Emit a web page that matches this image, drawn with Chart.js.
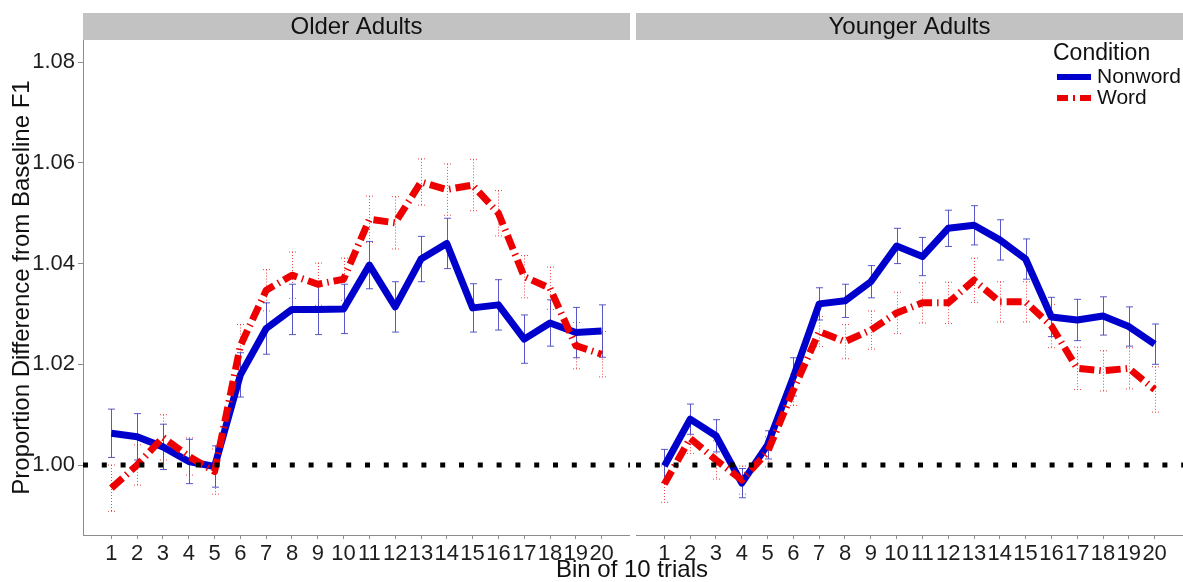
<!DOCTYPE html>
<html>
<head>
<meta charset="utf-8">
<script src="https://cdn.jsdelivr.net/npm/chart.js@4.4.1/dist/chart.umd.min.js"></script>
<style>
  body { margin: 0; background: #fff; width: 1183px; height: 582px; overflow: hidden; position: relative; }
  canvas { position: absolute; top: 0; }
  #olderChart { left: 0; }
  #youngerChart { left: 636px; }
  #xTitle {
    position: absolute; left: 482px; top: 555px; width: 300px;
    text-align: center; font: 24px "Liberation Sans", Arial, sans-serif;
    line-height: 28px; color: #111;
  }
</style>
</head>
<body>
<canvas id="olderChart" width="630" height="582"></canvas>
<canvas id="youngerChart" width="547" height="582"></canvas>
<div id="xTitle">Bin of 10 trials</div>
<script>
// bins of 10 trials
const bins = [1, 2, 3, 4, 5, 6, 7, 8, 9, 10, 11, 12, 13, 14, 15, 16, 17, 18, 19, 20];
const yTicks = [1.00, 1.02, 1.04, 1.06, 1.08];
const baseline = 1.0;

// older adults
const olderNonword = [1.0063, 1.0056, 1.0036, 1.0007, 0.9997, 1.0179, 1.0271, 1.0309, 1.0309, 1.0310,
                      1.0397, 1.0314, 1.0409, 1.0440, 1.0312, 1.0318, 1.0250, 1.0282, 1.0263, 1.0266];
const olderNonwordSE = [0.0048, 0.0046, 0.0045, 0.0044, 0.0041, 0.0044, 0.0051, 0.0050, 0.0050, 0.0049,
                        0.0047, 0.0050, 0.0045, 0.0050, 0.0048, 0.0050, 0.0048, 0.0046, 0.0050, 0.0052];
const olderWord = [0.9954, 1.0000, 1.0055, 1.0017, 0.9987, 1.0237, 1.0347, 1.0377, 1.0359, 1.0369,
                   1.0488, 1.0481, 1.0562, 1.0547, 1.0556, 1.0500, 1.0374, 1.0351, 1.0237, 1.0220];
const olderWordSE = [0.0046, 0.0040, 0.0045, 0.0037, 0.0045, 0.0042, 0.0041, 0.0046, 0.0042, 0.0042,
                     0.0046, 0.0052, 0.0046, 0.0051, 0.0051, 0.0045, 0.0042, 0.0042, 0.0046, 0.0045];

// younger adults
const youngerNonword = [0.9998, 1.0091, 1.0058, 0.9964, 1.0040, 1.0175, 1.0320, 1.0326, 1.0364, 1.0435,
                        1.0414, 1.0470, 1.0476, 1.0447, 1.0409, 1.0294, 1.0288, 1.0296, 1.0275, 1.0240];
const youngerNonwordSE = [0.0033, 0.0030, 0.0032, 0.0029, 0.0028, 0.0038, 0.0032, 0.0033, 0.0032, 0.0035,
                          0.0038, 0.0036, 0.0039, 0.0040, 0.0040, 0.0039, 0.0041, 0.0038, 0.0039, 0.0040];
const youngerWord = [0.9962, 1.0053, 1.0010, 0.9970, 1.0026, 1.0149, 1.0265, 1.0245, 1.0268, 1.0302,
                     1.0322, 1.0322, 1.0367, 1.0324, 1.0324, 1.0276, 1.0192, 1.0187, 1.0192, 1.0150];
const youngerWordSE = [0.0036, 0.0030, 0.0038, 0.0028, 0.0030, 0.0031, 0.0030, 0.0034, 0.0038, 0.0041,
                       0.0040, 0.0041, 0.0044, 0.0040, 0.0040, 0.0043, 0.0042, 0.0040, 0.0041, 0.0045];

const FONT = '"Liberation Sans", Arial, sans-serif';
const NONWORD_COLOR = '#0000CD';
const WORD_COLOR = '#EE0000';
const AXIS_COLOR = '#8c8c8c';
const WORD_DASH = [15, 5, 1.5, 5];

function toPoints(values) {
    return bins.map((b, i) => ({x: b, y: values[i]}));
}

const errorBars = {
    id: 'errorBars',
    beforeDatasetsDraw(chart) {
        const ctx = chart.ctx;
        const x = chart.scales.x;
        const y = chart.scales.y;
        chart.data.datasets.forEach(ds => {
            if (!ds.errors) return;
            ctx.save();
            ctx.strokeStyle = ds.errorColor;
            ctx.lineWidth = 1;
            ctx.setLineDash(ds.errorDash);
            ds.data.forEach((p, i) => {
                const px = Math.round(x.getPixelForValue(p.x)) + 0.5;
                const top = y.getPixelForValue(p.y + ds.errors[i]);
                const bot = y.getPixelForValue(p.y - ds.errors[i]);
                ctx.beginPath();
                ctx.moveTo(px, top);
                ctx.lineTo(px, bot);
                ctx.moveTo(px - 3.5, top);
                ctx.lineTo(px + 3.5, top);
                ctx.moveTo(px - 3.5, bot);
                ctx.lineTo(px + 3.5, bot);
                ctx.stroke();
            });
            ctx.restore();
        });
    }
};

const strip = {
    id: 'strip',
    afterDraw(chart, args, opts) {
        const ctx = chart.ctx;
        const area = chart.chartArea;
        ctx.save();
        ctx.fillStyle = '#C2C2C2';
        ctx.fillRect(area.left, 13, area.right - area.left, 27);
        ctx.fillStyle = '#111';
        ctx.font = '24px ' + FONT;
        ctx.textAlign = 'center';
        ctx.textBaseline = 'middle';
        ctx.fillText(opts.text, (area.left + area.right) / 2, 27);
        ctx.restore();
    }
};

const conditionLegend = {
    id: 'conditionLegend',
    afterDraw(chart, args, opts) {
        if (!opts.show) return;
        const ctx = chart.ctx;
        ctx.save();
        ctx.fillStyle = '#111';
        ctx.textBaseline = 'middle';
        ctx.font = '23px ' + FONT;
        ctx.fillText('Condition', 417, 54);

        ctx.font = '21px ' + FONT;
        ctx.lineWidth = 6;
        ctx.strokeStyle = NONWORD_COLOR;
        ctx.beginPath();
        ctx.moveTo(421, 77);
        ctx.lineTo(455, 77);
        ctx.stroke();
        ctx.fillText('Nonword', 461, 77);

        ctx.strokeStyle = WORD_COLOR;
        ctx.setLineDash([11, 5, 2, 5]);
        ctx.beginPath();
        ctx.moveTo(421, 98);
        ctx.lineTo(455, 98);
        ctx.stroke();
        ctx.setLineDash([]);
        ctx.fillText('Word', 461, 98);
        ctx.restore();
    }
};

function makePanel(canvasId, title, nonword, nonwordSE, word, wordSE, showY, showLegend) {
    return new Chart(document.getElementById(canvasId), {
        type: 'line',
        data: {
            datasets: [
                {
                    label: 'baseline',
                    data: [{x: -0.1, y: baseline}, {x: 21.1, y: baseline}],
                    borderColor: '#000',
                    borderWidth: 5,
                    borderDash: [5, 13.8],
                    order: 0
                },
                {
                    label: 'Word',
                    data: toPoints(word),
                    errors: wordSE,
                    errorColor: 'rgba(230, 40, 40, 0.85)',
                    errorDash: [1, 2],
                    borderColor: WORD_COLOR,
                    borderWidth: 7,
                    borderDash: WORD_DASH,
                    borderJoinStyle: 'round',
                    order: 1
                },
                {
                    label: 'Nonword',
                    data: toPoints(nonword),
                    errors: nonwordSE,
                    errorColor: 'rgba(60, 60, 190, 0.85)',
                    errorDash: [],
                    borderColor: NONWORD_COLOR,
                    borderWidth: 7,
                    borderJoinStyle: 'round',
                    order: 2
                }
            ]
        },
        options: {
            responsive: false,
            animation: false,
            layout: {padding: {top: 40, left: 0, right: 0, bottom: 0}},
            elements: {point: {radius: 0}, line: {tension: 0}},
            plugins: {
                legend: {display: false},
                tooltip: {enabled: false},
                strip: {text: title},
                conditionLegend: {show: showLegend}
            },
            scales: {
                x: {
                    type: 'linear',
                    min: -0.1,
                    max: 21.1,
                    afterBuildTicks: s => { s.ticks = bins.map(v => ({value: v})); },
                    afterFit: s => { s.height = 47; },
                    ticks: {
                        autoSkip: false,
                        maxRotation: 0,
                        padding: 2,
                        color: '#1e1e1e',
                        font: {family: FONT, size: 22},
                        callback: v => String(v)
                    },
                    grid: {drawOnChartArea: false, tickLength: 4, color: AXIS_COLOR},
                    border: {color: AXIS_COLOR, width: 1}
                },
                y: {
                    display: showY,
                    min: 0.9861,
                    max: 1.0844,
                    afterBuildTicks: s => { s.ticks = yTicks.map(v => ({value: v})); },
                    afterFit: s => { s.width = showY ? 83 : 0; },
                    ticks: {
                        padding: 3,
                        color: '#1e1e1e',
                        font: {family: FONT, size: 22},
                        callback: v => v.toFixed(2)
                    },
                    grid: {drawOnChartArea: false, tickLength: 5, color: AXIS_COLOR},
                    border: {color: AXIS_COLOR, width: 1},
                    title: {
                        display: true,
                        text: 'Proportion Difference from Baseline F1',
                        color: '#111',
                        font: {family: FONT, size: 24},
                        padding: {top: 8, bottom: 0}
                    }
                }
            }
        },
        plugins: [errorBars, strip, conditionLegend]
    });
}

makePanel('olderChart', 'Older Adults', olderNonword, olderNonwordSE, olderWord, olderWordSE, true, false);
makePanel('youngerChart', 'Younger Adults', youngerNonword, youngerNonwordSE, youngerWord, youngerWordSE, false, true);
</script>
</body>
</html>
